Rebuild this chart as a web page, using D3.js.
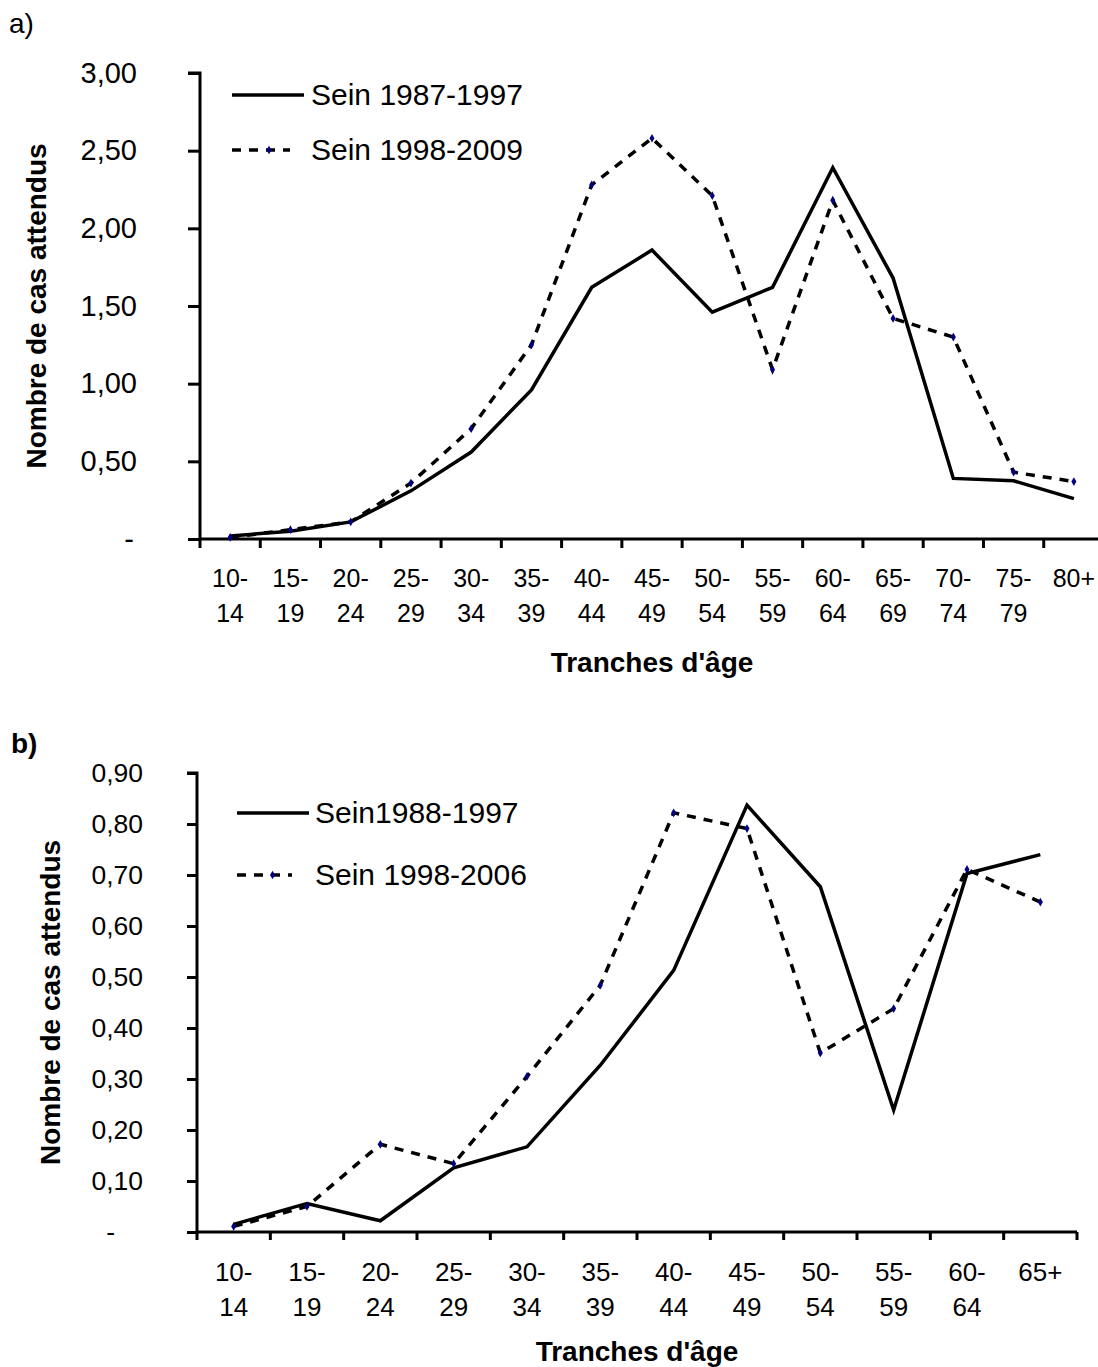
<!DOCTYPE html>
<html>
<head>
<meta charset="utf-8">
<script src="https://cdn.jsdelivr.net/npm/d3@7"></script>
<style>
  html, body { margin: 0; padding: 0; background: #fff; }
  svg { display: block; }
  text { font-family: "Liberation Sans", Arial, Helvetica, sans-serif; fill: #000; }
</style>
</head>
<body>
<svg id="chart" width="1098" height="1367"></svg>
<script>
// ---------- DATA ----------
const categoriesA = ["10-14","15-19","20-24","25-29","30-34","35-39","40-44","45-49","50-54","55-59","60-64","65-69","70-74","75-79","80+"];
const seriesA1Name = "Sein 1987-1997";
const seriesA1 = [0.02,0.05,0.11,0.31,0.56,0.96,1.62,1.86,1.46,1.62,2.39,1.68,0.39,0.375,0.26];
const seriesA2Name = "Sein 1998-2009";
const seriesA2 = [0.01,0.06,0.11,0.36,0.71,1.25,2.28,2.58,2.21,1.09,2.18,1.42,1.30,0.43,0.37];
const yTicksA = [0,0.5,1.0,1.5,2.0,2.5,3.0];

const categoriesB = ["10-14","15-19","20-24","25-29","30-34","35-39","40-44","45-49","50-54","55-59","60-64","65+"];
const seriesB1Name = "Sein1988-1997";
const seriesB1 = [0.015,0.056,0.022,0.126,0.167,0.327,0.513,0.837,0.677,0.239,0.703,0.740];
const seriesB2Name = "Sein 1998-2006";
const seriesB2 = [0.011,0.050,0.172,0.134,0.305,0.484,0.822,0.791,0.351,0.438,0.711,0.647];
const yTicksB = [0,0.1,0.2,0.3,0.4,0.5,0.6,0.7,0.8,0.9];

const xTitle = "Tranches d'âge";
const yTitle = "Nombre de cas attendus";

// ---------- DRAW ----------
const svg = d3.select("#chart");
svg.append("rect").attr("width",1098).attr("height",1367).attr("fill","#fff");

const fmt = v => v === 0 ? "-" : d3.format(".2f")(v).replace(".", ",");

function panel(cfg) {
  const g = svg.append("g");
  const x = d3.scaleBand().domain(cfg.categories).range([cfg.x0, cfg.x1]).padding(0);
  const y = d3.scaleLinear().domain([0, cfg.yMax]).range([cfg.yZero, cfg.yTop]);
  const cx = c => x(c) + x.bandwidth() / 2;

  // Y axis
  const yAxis = d3.axisLeft(y).tickValues(cfg.yTicks).tickSize(cfg.yTickLen).tickPadding(cfg.yPad).tickFormat(fmt);
  const ya = g.append("g").attr("transform", `translate(${cfg.x0},0)`).call(yAxis);
  ya.select(".domain").attr("stroke", "#000").attr("stroke-width", 3).attr("d", `M${-cfg.yTickLen},${cfg.yTop}H0V${cfg.yZero}`);
  ya.selectAll(".tick line").attr("stroke", "#000").attr("stroke-width", 3);
  ya.selectAll(".tick text").attr("font-size", cfg.yFont).attr("font-family", "Liberation Sans, Arial, sans-serif")
    .attr("dx", d => d === 0 ? cfg.zeroDx : 0);

  // X axis
  const xa = g.append("g").attr("transform", `translate(0,${cfg.yZero})`);
  xa.append("line").attr("x1", cfg.x0 - 1).attr("x2", cfg.x1).attr("y1", 0).attr("y2", 0)
    .attr("stroke", "#000").attr("stroke-width", 3);
  const edges = cfg.categories.map(c => x(c)).concat([cfg.x1]);
  xa.selectAll("line.tk").data(edges).join("line").attr("class", "tk")
    .attr("x1", d => d).attr("x2", d => d).attr("y1", 0).attr("y2", cfg.xTickLen)
    .attr("stroke", "#000").attr("stroke-width", 3);
  const lbl = xa.selectAll("text.xl").data(cfg.categories).join("text").attr("class", "xl")
    .attr("text-anchor", "middle").attr("font-size", cfg.xFont);
  lbl.each(function(c) {
    const t = d3.select(this);
    const i = c.indexOf("-");
    const l1 = i >= 0 ? c.slice(0, i + 1) : c;
    const l2 = i >= 0 ? c.slice(i + 1) : "";
    t.append("tspan").attr("x", cx(c)).attr("y", cfg.xLabOff).text(l1);
    if (l2) t.append("tspan").attr("x", cx(c)).attr("y", cfg.xLabOff + 35).text(l2);
  });

  // Axis titles
  g.append("text").attr("x", (cfg.x0 + cfg.x1) / 2).attr("y", cfg.xTitleY).attr("text-anchor", "middle")
    .attr("font-size", 28).attr("font-weight", "bold").text(xTitle);
  g.append("text").attr("transform", `translate(${cfg.yTitleX},${(cfg.yTop + cfg.yZero) / 2}) rotate(-90)`)
    .attr("text-anchor", "middle").attr("dominant-baseline", "central")
    .attr("font-size", 28).attr("font-weight", "bold").text(yTitle);

  // Panel letter
  g.append("text").attr("x", cfg.letterX).attr("y", cfg.letterY).attr("font-size", 28)
    .attr("font-weight", cfg.letterBold ? "bold" : "normal").text(cfg.letter);

  // Lines
  const line = d3.line().x((d, i) => cx(cfg.categories[i])).y(d => y(d));
  g.append("path").datum(cfg.s1).attr("d", line).attr("fill", "none").attr("stroke", "#000")
    .attr("stroke-width", 3.5).attr("stroke-linejoin", "miter");
  g.append("path").datum(cfg.s2).attr("d", line).attr("fill", "none").attr("stroke", "#000")
    .attr("stroke-width", 3.5).attr("stroke-dasharray", "9,8");
  const diamond = d3.symbol().type(d3.symbolDiamond).size(22);
  g.selectAll("path.m2").data(cfg.s2).join("path").attr("class", "m2")
    .attr("transform", (d, i) => `translate(${cx(cfg.categories[i])},${y(d)})`)
    .attr("d", diamond).attr("fill", "#000080");

  // Legend
  const L = cfg.legend;
  g.append("line").attr("x1", L.x0).attr("x2", L.x1).attr("y1", L.y1).attr("y2", L.y1)
    .attr("stroke", "#000").attr("stroke-width", 3.5);
  g.append("line").attr("x1", L.x0).attr("x2", L.x1d).attr("y1", L.y2).attr("y2", L.y2)
    .attr("stroke", "#000").attr("stroke-width", 3.5).attr("stroke-dasharray", "9,8");
  g.append("path").attr("transform", `translate(${(L.x0 + L.x1d) / 2 + 8},${L.y2})`).attr("d", diamond).attr("fill", "#000080");
  g.append("text").attr("x", L.tx).attr("y", L.y1 + 10).attr("font-size", 30).text(cfg.n1);
  g.append("text").attr("x", L.tx).attr("y", L.y2 + 10).attr("font-size", 30).text(cfg.n2);
}

panel({
  categories: categoriesA, s1: seriesA1, s2: seriesA2, n1: seriesA1Name, n2: seriesA2Name,
  yTicks: yTicksA, yMax: 3.0,
  x0: 200, x1: 1104, yTop: 73, yZero: 539,
  yTickLen: 12, yPad: 51, yFont: 29, zeroDx: -3,
  xTickLen: 9, xFont: 25, xLabOff: 48, xTitleY: 672, yTitleX: 36,
  letter: "a)", letterX: 9, letterY: 33, letterBold: false,
  legend: { x0: 232, x1: 304, x1d: 290, y1: 95, y2: 150, tx: 311 }
});

panel({
  categories: categoriesB, s1: seriesB1, s2: seriesB2, n1: seriesB1Name, n2: seriesB2Name,
  yTicks: yTicksB, yMax: 0.9,
  x0: 197, x1: 1077, yTop: 773, yZero: 1232,
  yTickLen: 10, yPad: 44, yFont: 26.5, zeroDx: -28,
  xTickLen: 8, xFont: 26, xLabOff: 49, xTitleY: 1361, yTitleX: 50,
  letter: "b)", letterX: 11, letterY: 753, letterBold: true,
  legend: { x0: 237, x1: 309, x1d: 292, y1: 813, y2: 875, tx: 315 }
});
</script>
</body>
</html>
